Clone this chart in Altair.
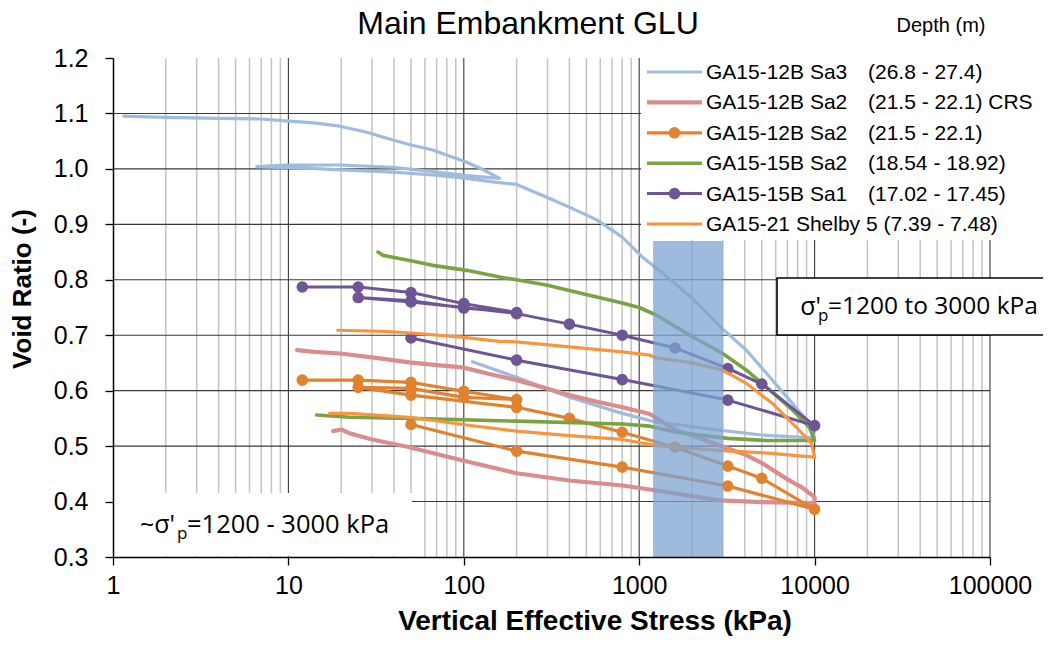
import altair as alt
import pandas as pd

# ---------------- data ----------------
# GA15-12B Sa3 (26.8 - 27.4) - continuous CRS curve incl. unload/reload loop
sa3_stress = [1.15, 2, 4, 7, 10, 14, 19.6, 28, 39.4, 50, 66.5, 85, 104, 130, 160,
              104, 66.5, 39.4, 19.6, 10, 6.6,
              8, 12, 17.3, 25, 39.4, 66.5, 104, 150, 200, 297, 400, 573, 800, 1050,
              1360, 2018, 2990, 4090, 5330, 7200, 9330, 10000,
              5000, 3000, 2000, 1257, 800, 400, 200, 112]
sa3_void = [1.095, 1.093, 1.091, 1.090, 1.086, 1.083, 1.077, 1.066, 1.052, 1.043, 1.034, 1.022, 1.012, 0.998, 0.983,
            0.988, 0.995, 1.003, 1.007, 1.007, 1.004,
            1.003, 1.002, 0.999, 0.997, 0.994, 0.989, 0.983, 0.976, 0.972, 0.949, 0.931, 0.908, 0.877, 0.840,
            0.812, 0.766, 0.711, 0.673, 0.631, 0.583, 0.541, 0.515,
            0.520, 0.528, 0.535, 0.543, 0.559, 0.588, 0.624, 0.652]

# GA15-12B Sa2 (21.5 - 22.1) CRS
crs_stress = [11.2, 14, 19.7, 30, 49, 70, 98.6, 140, 200, 280, 400, 560, 804, 1150, 1590, 2000,
              2875, 4000, 5040, 7000, 8500, 10000,
              10000, 5000, 2875, 1800, 1257, 804, 400, 200, 98.6, 49, 30, 22.4, 20, 18]
crs_void = [0.673, 0.670, 0.667, 0.660, 0.651, 0.646, 0.642, 0.630, 0.619, 0.606, 0.592, 0.581, 0.570, 0.558, 0.530, 0.519,
            0.501, 0.485, 0.469, 0.440, 0.425, 0.408,
            0.397, 0.399, 0.402, 0.412, 0.420, 0.429, 0.438, 0.451, 0.474, 0.498, 0.512, 0.523, 0.530, 0.527]

# GA15-12B Sa2 (21.5 - 22.1) incremental
inc12_stress = [12, 25, 50, 100, 200, 100, 50, 25, 50, 200, 400, 800, 1600, 3200, 5000, 10000,
                3200, 800, 200, 50]
inc12_void = [0.619, 0.619, 0.615, 0.599, 0.584, 0.588, 0.604, 0.606, 0.592, 0.570, 0.550, 0.525, 0.498, 0.464, 0.442, 0.386,
              0.428, 0.462, 0.491, 0.539]

# GA15-15B Sa2 (18.54 - 18.92)
g15_stress = [32.4, 34.7, 40, 50.6, 66.5, 104, 160, 200, 300, 458, 573, 800, 1000, 1257, 1600, 2018,
              2990, 4090, 5330, 7500, 9330, 10000,
              5330, 3200, 1630, 1150, 800, 200, 49, 22.4, 14.5]
g15_void = [0.850, 0.844, 0.840, 0.834, 0.826, 0.817, 0.805, 0.800, 0.790, 0.776, 0.769, 0.758, 0.750, 0.736, 0.716, 0.697,
            0.667, 0.637, 0.606, 0.565, 0.534, 0.510,
            0.510, 0.514, 0.525, 0.536, 0.540, 0.545, 0.550, 0.552, 0.556]

# GA15-15B Sa1 (17.02 - 17.45) incremental
inc15_stress = [12, 25, 50, 100, 200, 100, 50, 25, 50, 100, 200, 400, 800, 1600, 3200, 5000, 10000,
                3200, 800, 200, 50]
inc15_void = [0.787, 0.787, 0.777, 0.757, 0.741, 0.749, 0.762, 0.768, 0.760, 0.750, 0.739, 0.720, 0.700, 0.677, 0.640, 0.612, 0.537,
              0.583, 0.620, 0.655, 0.695]

# GA15-21 Shelby 5 (7.39 - 7.48)
sh_stress = [19.1, 34.7, 50.6, 100, 160, 200, 400, 800, 1150, 1257, 2018, 2990, 4090, 5750, 7870, 9600, 10000,
             7870, 5750, 2990, 1550, 1257, 800, 400, 200, 98.6, 49, 22.4, 17.2]
sh_void = [0.709, 0.707, 0.704, 0.696, 0.689, 0.688, 0.679, 0.670, 0.664, 0.659, 0.650, 0.637, 0.613, 0.577, 0.534, 0.505, 0.480,
           0.483, 0.487, 0.492, 0.498, 0.501, 0.512, 0.519, 0.527, 0.539, 0.552, 0.559, 0.559]

legend_names = ["GA15-12B Sa3", "GA15-12B Sa2", "GA15-12B Sa2", "GA15-15B Sa2", "GA15-15B Sa1",
                "GA15-21 Shelby 5 (7.39 - 7.48)"]
legend_depths = ["(26.8 - 27.4)", "(21.5 - 22.1) CRS", "(21.5 - 22.1)", "(18.54 - 18.92)", "(17.02 - 17.45)", ""]
series_colors = ["#9fbbdd", "#d98d8c", "#e1822f", "#7aa443", "#6d5596", "#f8963f"]
series_widths = [3.2, 4.2, 3.2, 3.6, 3.0, 3.2]
series_markers = [False, False, True, False, True, False]
series_stress = [sa3_stress, crs_stress, inc12_stress, g15_stress, inc15_stress, sh_stress]
series_void = [sa3_void, crs_void, inc12_void, g15_void, inc15_void, sh_void]

x_ticks = [1, 10, 100, 1000, 10000, 100000]
y_ticks = [0.3, 0.4, 0.5, 0.6, 0.7, 0.8, 0.9, 1.0, 1.1, 1.2]
minor_x = [k * 10 ** d for d in range(0, 5) for k in range(2, 10)]
major_x = [10, 100, 1000, 10000, 100000]
grid_y = [0.4, 0.5, 0.6, 0.7, 0.8, 0.9, 1.0, 1.1]

band_lo, band_hi, band_bottom, band_top = [1200], [3000], [0.3], [0.87]

# ---------------- layout ----------------
W, H = 877, 499
FONT = "Liberation Sans"
AFONT = "Open Sans"

XS = alt.Scale(type="log", domain=[1, 100000], nice=False)
YS = alt.Scale(domain=[0.3, 1.2], nice=False, zero=False)
XA = alt.Axis(values=x_ticks, format="d", grid=False, title=None, zindex=1,
              domainColor="#000000", domainWidth=1.5, tickColor="#000000", tickWidth=1.3,
              tickSize=8, labelPadding=8, labelFont=FONT, labelFontSize=25,
              labelColor="#000000", labelFlush=False, labelOverlap=False)
YA = alt.Axis(values=y_ticks, format=".1f", grid=False, title=None, zindex=1,
              domainColor="#000000", domainWidth=1.5, tickColor="#000000", tickWidth=1.3,
              tickSize=8, labelPadding=17, labelFont=FONT, labelFontSize=25,
              labelColor="#000000", labelFlush=False, labelOverlap=False)


def X(f):
    return alt.X(f, type="quantitative", scale=XS, axis=XA)


def Y(f):
    return alt.Y(f, type="quantitative", scale=YS, axis=YA)


dummy = pd.DataFrame({"a": [0]})
layers = []

# grid
layers.append(alt.Chart(pd.DataFrame({"gx": minor_x})).mark_rule(color="#c4c4c4", strokeWidth=1.5)
              .encode(x=X("gx"), y=alt.value(0), y2=alt.value(H)))
layers.append(alt.Chart(pd.DataFrame({"gx": major_x})).mark_rule(color="#3a3a3a", strokeWidth=1.1)
              .encode(x=X("gx"), y=alt.value(0), y2=alt.value(H)))
layers.append(alt.Chart(pd.DataFrame({"gy": grid_y})).mark_rule(color="#3a3a3a", strokeWidth=1.1)
              .encode(y=Y("gy"), x=alt.value(0), x2=alt.value(W)))

# series
for i in range(6):
    df = pd.DataFrame({"stress": series_stress[i], "void": series_void[i],
                       "idx": list(range(len(series_stress[i])))})
    layers.append(alt.Chart(df).mark_line(color=series_colors[i], strokeWidth=series_widths[i],
                                          strokeJoin="round", strokeCap="round")
                  .encode(x=X("stress"), y=Y("void"), order=alt.Order("idx:Q")))
    if series_markers[i]:
        layers.append(alt.Chart(df).mark_circle(color=series_colors[i], size=135, opacity=1)
                      .encode(x=X("stress"), y=Y("void")))

# shaded band
band_df = pd.DataFrame({"lo": band_lo, "hi": band_hi, "b": band_bottom, "t": band_top})
layers.append(alt.Chart(band_df).mark_rect(color="#7ea3d0", opacity=0.75)
              .encode(x=X("lo"), x2="hi", y=Y("b"), y2="t"))

# white boxes (legend background, annotations)
layers.append(alt.Chart(dummy).mark_rect(color="white")
              .encode(x=alt.value(528), x2=alt.value(960), y=alt.value(-3), y2=alt.value(182)))
layers.append(alt.Chart(dummy).mark_rect(color="white")
              .encode(x=alt.value(1), x2=alt.value(299), y=alt.value(435), y2=alt.value(498)))
layers.append(alt.Chart(dummy).mark_rect(fill="white", stroke="black", strokeWidth=1.6)
              .encode(x=alt.value(664), x2=alt.value(960), y=alt.value(220), y2=alt.value(277)))


def txt(s, x, y, size, align="left", font=FONT, weight="normal", angle=0, baseline="middle"):
    kw = dict(align=align, baseline=baseline, font=font, fontSize=size, fontWeight=weight, color="black")
    if angle:
        kw["angle"] = angle
    return alt.Chart(dummy).mark_text(**kw).encode(x=alt.value(x), y=alt.value(y), text=alt.value(s))


# annotation: right box
layers.append(txt("σ'", 708, 249, 25, align="right", font=AFONT))
layers.append(txt("p", 705, 258, 17, font=AFONT))
layers.append(txt("=1200 to 3000 kPa", 715, 249, 24.5, font=AFONT))
# annotation: bottom-left box
layers.append(txt("~σ'", 62, 467, 25, align="right", font=AFONT))
layers.append(txt("p", 64, 476, 17, font=AFONT))
layers.append(txt("=1200 - 3000 kPa", 74, 467, 25.5, font=AFONT))

# titles
layers.append(txt("Main Embankment GLU", 415, -34, 32, align="center"))
layers.append(txt("Depth (m)", 828, -32, 20, align="center"))
layers.append(txt("Vertical Effective Stress  (kPa)", 482, 564, 28, align="center", weight="bold"))
layers.append(txt("Void Ratio (-)", -90, 231, 26, align="center", weight="bold", angle=270))

# legend
for i in range(6):
    yv = 14 + i * 30.4
    layers.append(alt.Chart(dummy).mark_rule(color=series_colors[i], strokeWidth=series_widths[i])
                  .encode(x=alt.value(534), x2=alt.value(589), y=alt.value(yv)))
    if series_markers[i]:
        layers.append(alt.Chart(dummy).mark_circle(color=series_colors[i], size=135, opacity=1)
                      .encode(x=alt.value(561.5), y=alt.value(yv)))
    layers.append(txt(legend_names[i], 593, yv + 1, 21))
    if legend_depths[i]:
        layers.append(txt(legend_depths[i], 755, yv + 1, 21))

chart = (alt.layer(*layers)
         .properties(width=W, height=H, autosize=alt.AutoSizeParams(type="none"),
                     padding={"left": 105, "top": 50, "right": 53, "bottom": 79},
                     background="white")
         .configure_view(stroke=None))

chart.save("out.html", embed_options={"renderer": "svg", "actions": False})
